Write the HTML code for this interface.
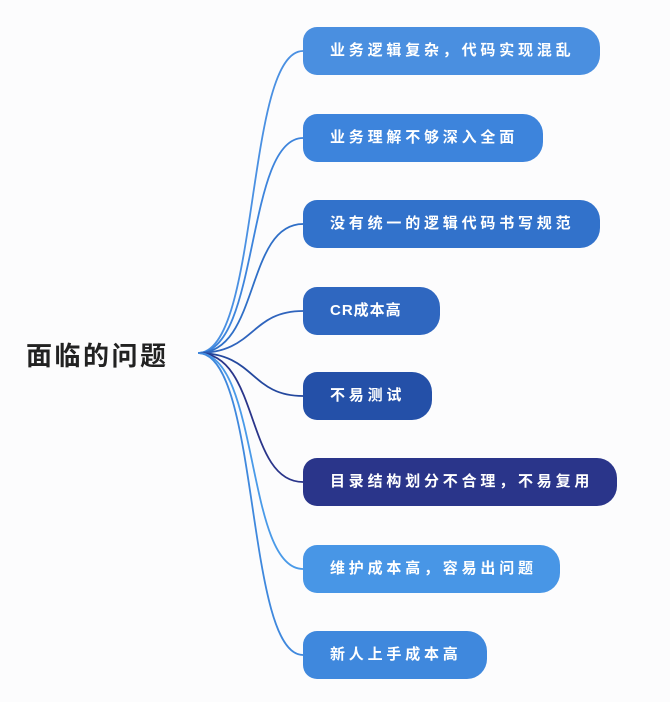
<!DOCTYPE html>
<html><head><meta charset="utf-8"><style>
body{margin:0;width:670px;height:702px;background:#fcfcfd;position:relative;overflow:hidden;font-family:"Liberation Sans","Noto Sans CJK SC",sans-serif;}
.root{position:absolute;left:26px;top:336px;font-size:26px;font-weight:bold;color:#222;letter-spacing:2.5px;}
.b{position:absolute;left:303px;height:48px;border-radius:14px 20px 20px 14px;color:#fff;font-size:15px;font-weight:bold;line-height:48px;padding-left:27px;letter-spacing:3.8px;box-sizing:border-box;}
svg{position:absolute;left:0;top:0}
</style></head><body>
<svg width="670" height="702" fill="none" stroke-width="1.8">
<path d="M198,353 C260,353 245,51 303,51" stroke="#4a90e2"/>
<path d="M198,353 C260,353 245,138 303,138" stroke="#3d84dc"/>
<path d="M198,353 C260,353 245,224 303,224" stroke="#2f6fc7"/>
<path d="M198,353 C255,353 250,311 303,311" stroke="#2f64bd"/>
<path d="M198,353 C255,353 250,396 303,396" stroke="#24489e"/>
<path d="M198,353 C260,353 245,482 303,482" stroke="#2a358a"/>
<path d="M198,353 C260,353 245,569 303,569" stroke="#4a9ae8"/>
<path d="M198,353 C260,353 245,655 303,655" stroke="#3f88dd"/>
</svg>
<div class="root">面临的问题</div>
<div class="b" style="top:27px;width:297px;background:#4a8fe0">业务逻辑复杂，代码实现混乱</div>
<div class="b" style="top:114px;width:240px;background:#3d84dc">业务理解不够深入全面</div>
<div class="b" style="top:200px;width:297px;background:#3272cb">没有统一的逻辑代码书写规范</div>
<div class="b" style="top:287px;width:137px;background:#2f67c0;letter-spacing:1px">CR成本高</div>
<div class="b" style="top:372px;width:129px;background:#2450a8">不易测试</div>
<div class="b" style="top:458px;width:314px;background:#2a358a">目录结构划分不合理，不易复用</div>
<div class="b" style="top:545px;width:257px;background:#4896e6">维护成本高，容易出问题</div>
<div class="b" style="top:631px;width:184px;background:#3f88dd">新人上手成本高</div>
</body></html>
